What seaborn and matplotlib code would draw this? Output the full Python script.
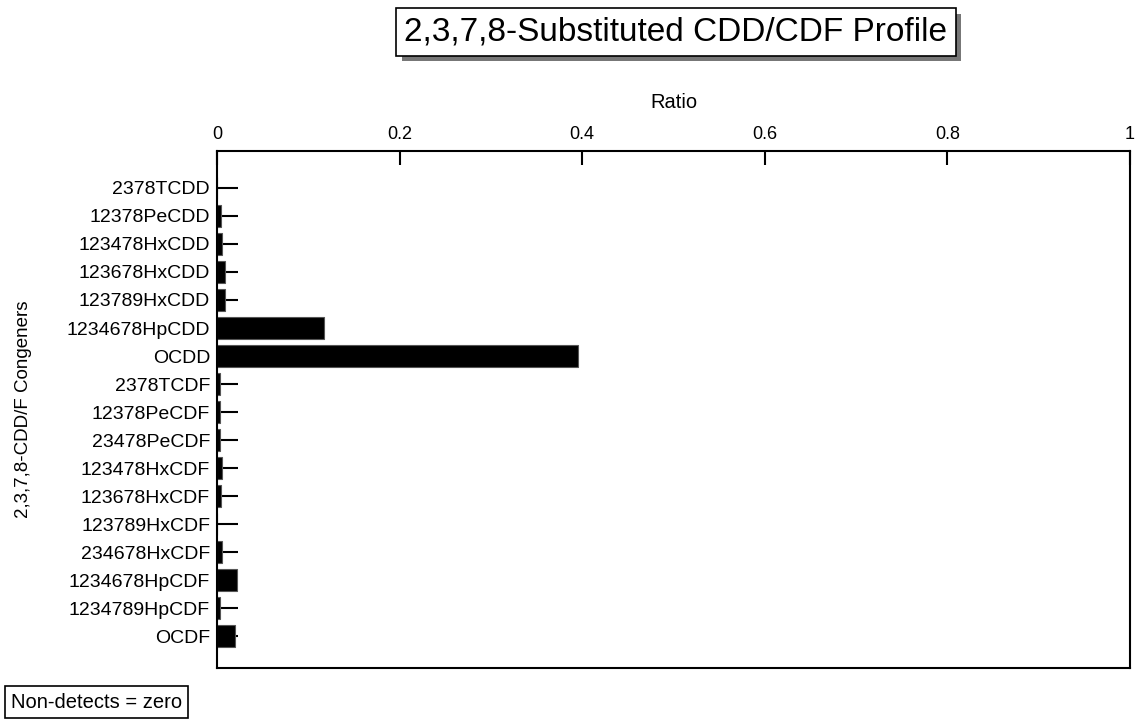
import matplotlib
matplotlib.use("Agg")
import matplotlib.pyplot as plt
import matplotlib.patheffects as pe
import seaborn as sns
import pandas as pd

congeners = ["2378TCDD", "12378PeCDD", "123478HxCDD", "123678HxCDD", "123789HxCDD",
             "1234678HpCDD", "OCDD", "2378TCDF", "12378PeCDF", "23478PeCDF",
             "123478HxCDF", "123678HxCDF", "123789HxCDF", "234678HxCDF",
             "1234678HpCDF", "1234789HpCDF", "OCDF"]
ratios = [0.0, 0.004, 0.006, 0.009, 0.009,
          0.117, 0.395, 0.003, 0.003, 0.003,
          0.006, 0.004, 0.0, 0.005,
          0.022, 0.003, 0.020]
x_ticks = [0, 0.2, 0.4, 0.6, 0.8, 1]
x_tick_labels = ["0", "0.2", "0.4", "0.6", "0.8", "1"]


def main():
    sns.set_theme(style="white")
    plt.rcParams["font.family"] = ["Liberation Sans", "DejaVu Sans"]
    plt.rcParams["text.color"] = "black"
    plt.rcParams["axes.labelcolor"] = "black"

    df = pd.DataFrame({"Congener": congeners, "Ratio": ratios})

    fig = plt.figure(figsize=(11.37, 7.27), dpi=100)
    ax = fig.add_axes([217 / 1137, 1 - 668 / 727, 913 / 1137, 517 / 727])

    sns.barplot(data=df, x="Ratio", y="Congener", orient="h", color="black",
                width=0.8, edgecolor="#555555", linewidth=0.8, saturation=1, ax=ax)

    ax.set_xlim(0, 1)
    ax.set_ylim(len(congeners) + 0.14, -1.32)
    ax.set_xticks(x_ticks)
    ax.set_xticklabels(x_tick_labels)
    ax.xaxis.tick_top()
    ax.xaxis.set_label_position("top")
    ax.set_xlabel("Ratio", fontsize=14.5, labelpad=13, color="black")
    ax.set_ylabel("2,3,7,8-CDD/F Congeners", fontsize=13.5, color="black")
    ax.yaxis.set_label_coords(-0.203, 0.5)

    ax.tick_params(axis="x", direction="in", length=10, width=1.5, labelsize=13,
                   colors="black", top=True, bottom=False, pad=5.5)
    ax.tick_params(axis="y", direction="in", length=15, width=1.5, labelsize=14,
                   colors="black", left=True, pad=5)
    for s in ax.spines.values():
        s.set_color("black")
        s.set_linewidth(1.5)

    # Title box with drop shadow
    title = fig.text(676 / 1137, 1 - 32 / 727, "2,3,7,8-Substituted CDD/CDF Profile",
                     fontsize=24, ha="center", va="center", color="black",
                     bbox=dict(boxstyle="square,pad=0.25", facecolor="white",
                               edgecolor="black", linewidth=1.2))
    title.get_bbox_patch().set_path_effects([
        pe.SimplePatchShadow(offset=(4, -4), shadow_rgbFace="#777777", alpha=1.0),
        pe.Normal()])

    # Footnote box
    fig.text(11 / 1137, 1 - 702 / 727, "Non-detects = zero", fontsize=14.5, ha="left", va="center",
             color="black",
             bbox=dict(boxstyle="square,pad=0.3", facecolor="white", edgecolor="black", linewidth=1.2))

    fig.savefig("out.png", dpi=100)
    plt.close(fig)


if __name__ == "__main__":
    main()
